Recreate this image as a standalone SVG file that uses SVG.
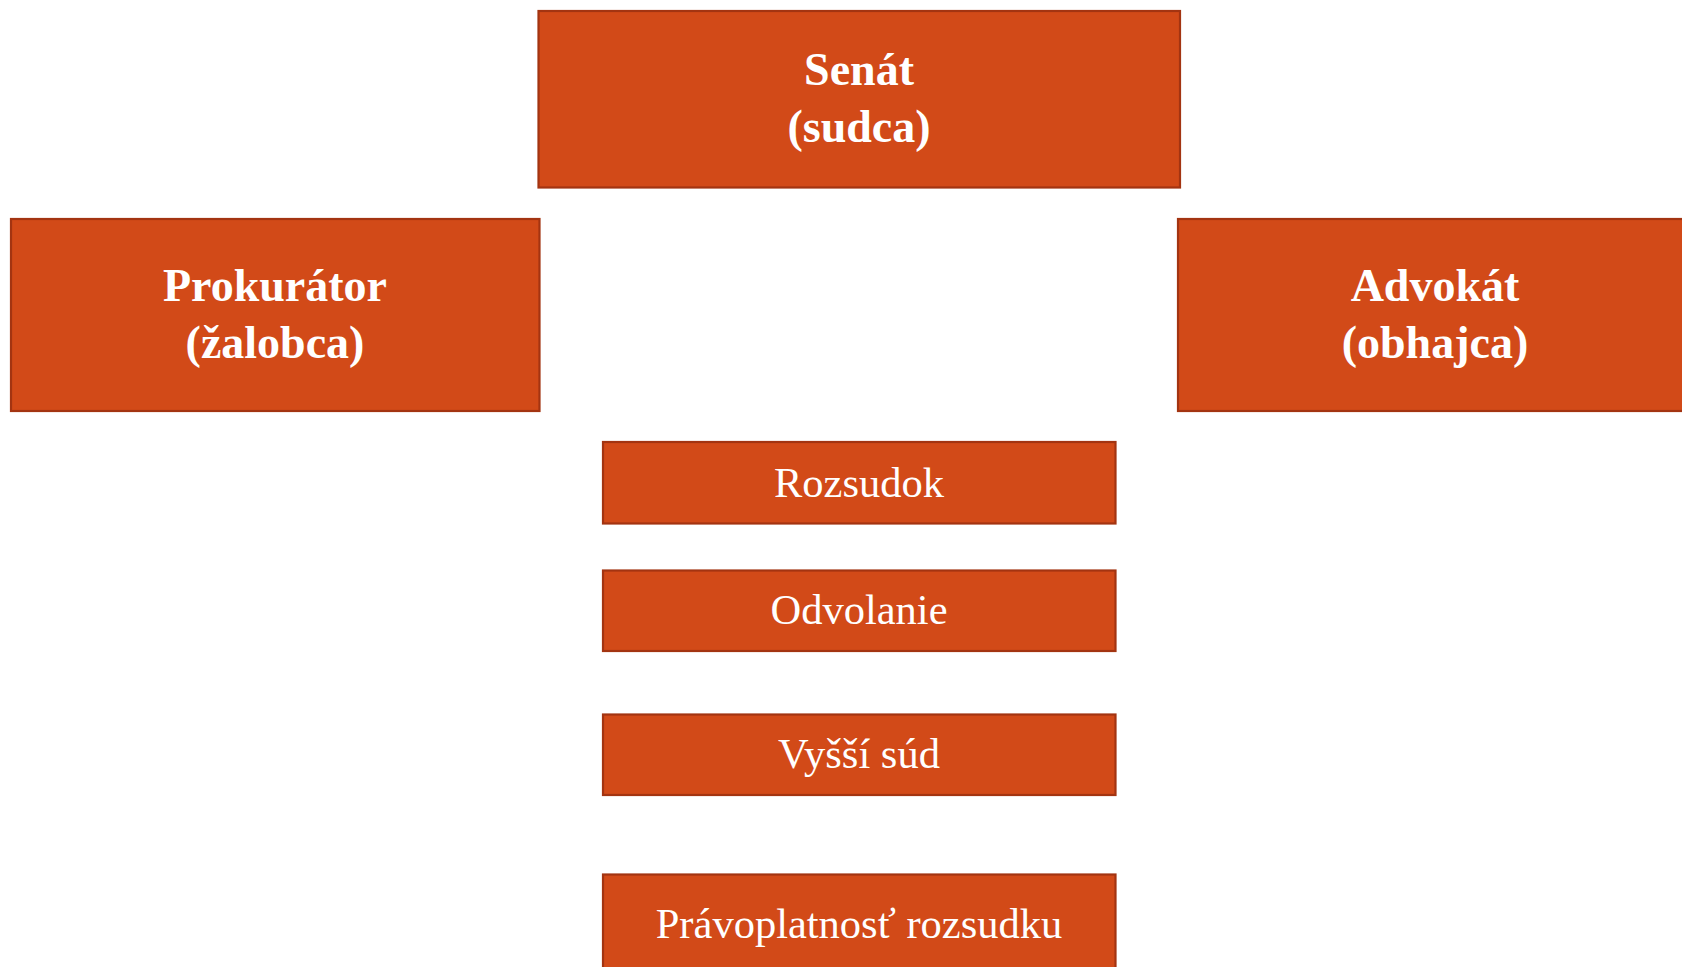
<svg xmlns="http://www.w3.org/2000/svg" width="1682" height="967" viewBox="0 0 1682 967">
<style>
.box{fill:#D24A18;stroke:#A33411;stroke-width:2.2}
.t{font-family:"Liberation Serif","Times New Roman",serif;fill:#FFFFFF;text-anchor:middle}
.b{font-weight:bold;font-size:46px}
.r{font-size:42.5px}
</style>
<rect width="1682" height="967" fill="#FFFFFF"/>
<g id="connectors"></g>
<g id="senat">
<rect class="box" x="538.5" y="11" width="641.5" height="176.5"/>
<text class="t b" x="859" y="85">Senát</text>
<text class="t b" x="859" y="142">(sudca)</text>
</g>
<g id="prokurator">
<rect class="box" x="11" y="219" width="528.5" height="192"/>
<text class="t b" x="275" y="301">Prokurátor</text>
<text class="t b" x="275" y="358">(žalobca)</text>
</g>
<g id="advokat">
<rect class="box" x="1178" y="219" width="514" height="192"/>
<text class="t b" x="1435" y="301">Advokát</text>
<text class="t b" x="1435" y="358">(obhajca)</text>
</g>
<g id="rozsudok">
<rect class="box" x="603" y="442" width="512.5" height="81.5"/>
<text class="t r" x="859" y="497">Rozsudok</text>
</g>
<g id="odvolanie">
<rect class="box" x="603" y="570.5" width="512.5" height="80.5"/>
<text class="t r" x="859" y="624">Odvolanie</text>
</g>
<g id="vyssi-sud">
<rect class="box" x="603" y="714.5" width="512.5" height="80.5"/>
<text class="t r" x="859" y="768">Vyšší súd</text>
</g>
<g id="pravoplatnost">
<rect class="box" x="603" y="874.5" width="512.5" height="110"/>
<text class="t r" x="859" y="938">Právoplatnosť rozsudku</text>
</g>
</svg>
